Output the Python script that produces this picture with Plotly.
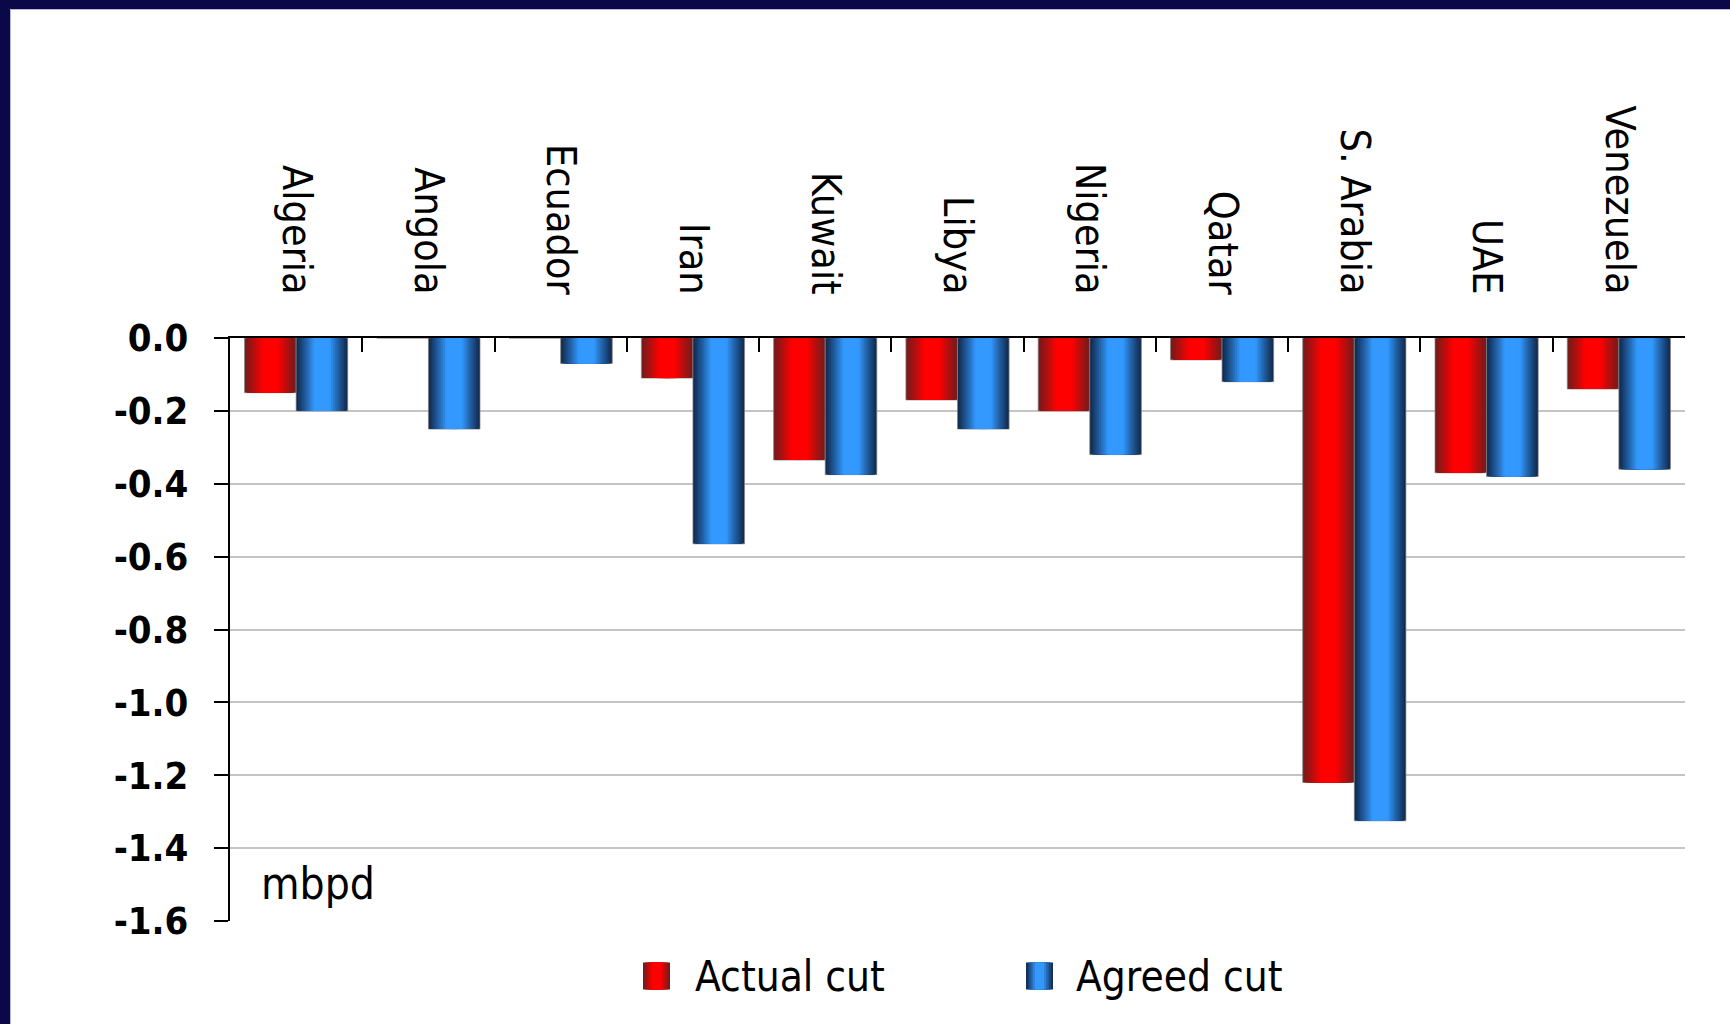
import plotly.graph_objects as go

# OPEC members: actual vs agreed production cut (million barrels per day)
countries = ["Algeria", "Angola", "Ecuador", "Iran", "Kuwait", "Libya",
             "Nigeria", "Qatar", "S. Arabia", "UAE", "Venezuela"]
actual_cut = [-0.15, 0.0, 0.0, -0.11, -0.335, -0.17, -0.20, -0.06, -1.22, -0.37, -0.14]
agreed_cut = [-0.20, -0.25, -0.07, -0.565, -0.375, -0.25, -0.32, -0.12, -1.325, -0.38, -0.36]
series_names = ["Actual cut", "Agreed cut"]
y_tick_vals = [0.0, -0.2, -0.4, -0.6, -0.8, -1.0, -1.2, -1.4, -1.6]
y_tick_text = ["0.0", "-0.2", "-0.4", "-0.6", "-0.8", "-1.0", "-1.2", "-1.4", "-1.6"]
unit_label = "mbpd"

W, H = 1730, 1024
ML, MR, MT, MB = 230, 45, 338, 103
PW, PH = W - ML - MR, H - MT - MB

NARROW = "DejaVu Sans Condensed, Liberation Sans Narrow, Liberation Sans, sans-serif"


def px(xp):
    return (xp - ML) / PW


def py(yp):
    return (H - MB - yp) / PH


def lerp(c0, c1, s):
    return "rgb(%d,%d,%d)" % tuple(round(a + (b - a) * s) for a, b in zip(c0, c1))


# edge (dark) and core (bright) colours for the cylindrical shading
palettes = [((112, 28, 28), (255, 0, 0)), ((16, 38, 72), (51, 153, 255))]
series_values = [actual_cut, agreed_cut]
bar_w = 0.39
centers = [-bar_w / 2, bar_w / 2]
N_LAYERS = 14


def shade(t):
    s = min(max((t - 0.3) / 0.7, 0.0), 1.0)
    return s ** 0.9


fig = go.Figure()
n = len(countries)
for name, vals, (edge, core), c in zip(series_names, series_values, palettes, centers):
    for k in range(N_LAYERS):
        frac = 1 - k / N_LAYERS
        w = bar_w * frac
        t = frac - 0.5 / N_LAYERS
        col = lerp(core, edge, shade(t))
        fig.add_trace(go.Bar(
            x=countries, y=vals, name=name,
            width=[w] * n, offset=[c - w / 2] * n,
            marker=dict(color=col,
                        line=dict(width=1 if k == 0 else 0,
                                  color="rgba(130,130,130,0.7)")),
            showlegend=False, hoverinfo="skip",
        ))

shapes = []
# navy frame along the top and left edges, with a thin lavender inner rim
navy = "#0a0849"
rim = "#b8b8dc"
shapes.append(dict(type="rect", xref="paper", yref="paper", layer="above",
                   x0=px(0), x1=px(11), y0=py(H), y1=py(0),
                   fillcolor=rim, line=dict(width=0)))
shapes.append(dict(type="rect", xref="paper", yref="paper", layer="above",
                   x0=px(0), x1=px(W), y0=py(10), y1=py(0),
                   fillcolor=rim, line=dict(width=0)))
shapes.append(dict(type="rect", xref="paper", yref="paper", layer="above",
                   x0=px(0), x1=px(10), y0=py(H), y1=py(0),
                   fillcolor=navy, line=dict(width=0)))
shapes.append(dict(type="rect", xref="paper", yref="paper", layer="above",
                   x0=px(0), x1=px(W), y0=py(9), y1=py(0),
                   fillcolor=navy, line=dict(width=0)))

# legend: shaded swatch + label per series
annotations = []
legend_swatch_x = [643, 1026]
legend_text_x = [693, 1074]
sw, ly = 27, 976
for name, (edge, core), sx, tx in zip(series_names, palettes, legend_swatch_x, legend_text_x):
    steps = 6
    for k in range(steps):
        frac = 1 - k / steps
        half = sw / 2 * frac
        cx = sx + sw / 2
        col = lerp(core, edge, shade(frac - 0.5 / steps))
        shapes.append(dict(type="rect", xref="paper", yref="paper",
                           x0=px(cx - half), x1=px(cx + half),
                           y0=py(ly + sw / 2), y1=py(ly - sw / 2),
                           fillcolor=col, line=dict(width=0)))
    annotations.append(dict(text=name, xref="paper", yref="paper",
                            x=px(tx), y=py(ly), xanchor="left", yanchor="middle",
                            showarrow=False,
                            font=dict(family=NARROW, size=42, color="black")))

annotations.append(dict(text=unit_label, xref="paper", yref="paper",
                        x=px(259), y=py(883), xanchor="left", yanchor="middle",
                        showarrow=False,
                        font=dict(family=NARROW, size=44, color="black")))

fig.update_layout(
    width=W, height=H,
    margin=dict(l=ML, r=MR, t=MT, b=MB, pad=0),
    paper_bgcolor="white", plot_bgcolor="white",
    barmode="overlay",
    showlegend=False,
    shapes=shapes,
    annotations=annotations,
    xaxis=dict(
        type="category", side="top", tickangle=90,
        ticks="inside", ticklen=14, tickwidth=2, tickcolor="black",
        tickson="boundaries",
        showline=True, linecolor="black", linewidth=2,
        showgrid=False, zeroline=False,
        ticklabelstandoff=27,
        tickfont=dict(family=NARROW, size=41, color="black"),
    ),
    yaxis=dict(
        range=[-1.6, 0],
        tickvals=y_tick_vals, ticktext=y_tick_text,
        ticks="outside", ticklen=14, tickwidth=2, tickcolor="black",
        showline=True, linecolor="black", linewidth=2,
        showgrid=True, gridcolor="#c4c4c4", gridwidth=2,
        zeroline=False,
        ticklabelstandoff=18,
        tickfont=dict(family=NARROW, size=38, color="black", weight="bold"),
    ),
)

fig.write_html("out.html")
